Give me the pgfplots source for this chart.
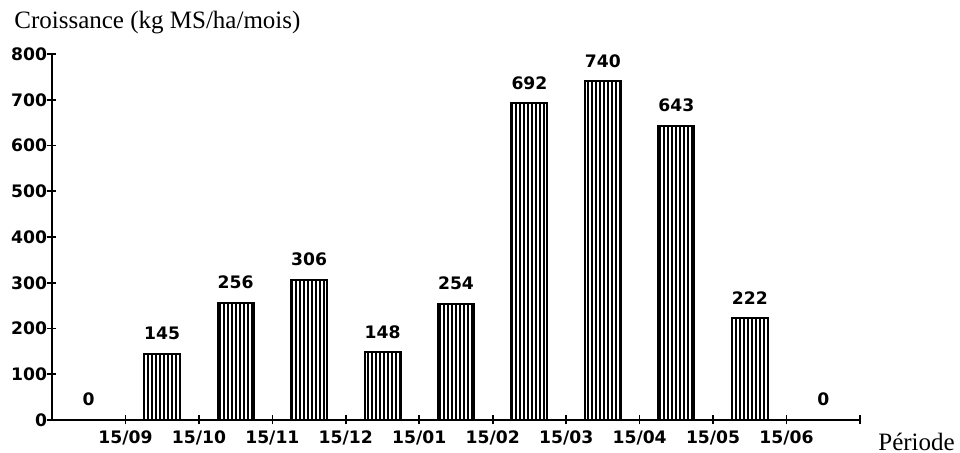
\documentclass[border=0pt]{standalone}
\usepackage{fontspec}
\setmainfont{Liberation Serif}
\newfontfamily\numfontb{DejaVu Sans Bold}
\usepackage{pgfplots}
\pgfplotsset{compat=1.18}
\usetikzlibrary{patterns.meta}
\newcommand{\nf}{\numfontb\fontsize{8.6}{10}\selectfont}

\begin{document}
\begin{tikzpicture}
\begin{axis}[
  at={(0,0)}, anchor=south west,
  scale only axis, width=404pt, height=183pt,
  xmin=-0.5, xmax=10.5, ymin=0, ymax=800,
  axis lines=left, axis line style={-, line width=1pt},
  xtick={0.5,1.5,2.5,3.5,4.5,5.5,6.5,7.5,8.5,9.5},
  xticklabels={15/09,15/10,15/11,15/12,15/01,15/02,15/03,15/04,15/05,15/06},
  extra x ticks={10.5}, extra x tick labels={},
  ytick={0,100,200,300,400,500,600,700,800},
  tick align=center, major tick length=4.5pt,
  tick style={line width=0.8pt, black},
  /pgf/number format/assume math mode=true,
  ticklabel style={font=\nf},
  yticklabel style={inner sep=0pt, xshift=0pt},
  xticklabel style={inner sep=0pt, yshift=-3pt},
  clip=false,
]
\addplot[ybar, bar shift=0pt, bar width=0.49, draw=black, line width=1pt,
  pattern={Lines[angle=90,distance=2pt,line width=0.7pt]}, pattern color=black,
  nodes near coords,
  every node near coord/.append style={font=\nf, anchor=south, inner sep=0pt, yshift=6.5pt}]
  coordinates {(1,145) (2,256) (3,306) (4,148) (5,254) (6,692) (7,740) (8,643) (9,222)};
\addplot[ybar, bar shift=0pt, bar width=0.49, draw=none, fill=none,
  nodes near coords,
  every node near coord/.append style={font=\nf, anchor=south, inner sep=0pt, yshift=7pt}]
  coordinates {(0,0) (10,0)};
\end{axis}
\node[anchor=west, inner sep=0pt, font=\fontsize{12.5}{14}\selectfont] at (-19pt,198.5pt) {Croissance (kg MS/ha/mois)};
\node[anchor=west, inner sep=0pt, font=\fontsize{12.5}{14}\selectfont] at (413pt,-11pt) {Période};
\pgfresetboundingbox
\useasboundingbox (-26pt,-16.5pt) rectangle (454pt,210pt);
\end{tikzpicture}
\end{document}
